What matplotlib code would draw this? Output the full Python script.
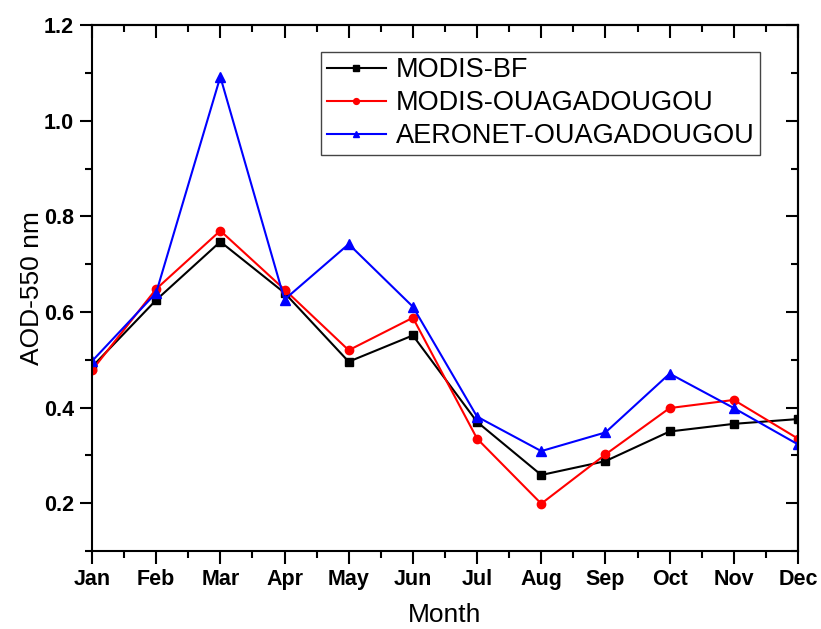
import matplotlib
matplotlib.use("Agg")
import matplotlib.pyplot as plt
from matplotlib.ticker import MultipleLocator

months = ["Jan", "Feb", "Mar", "Apr", "May", "Jun", "Jul", "Aug", "Sep", "Oct", "Nov", "Dec"]
modis_bf = [0.485, 0.625, 0.747, 0.640, 0.496, 0.551, 0.370, 0.259, 0.288, 0.350, 0.366, 0.376]
modis_ouaga = [0.478, 0.648, 0.770, 0.647, 0.520, 0.588, 0.335, 0.199, 0.302, 0.399, 0.416, 0.335]
aeronet_ouaga = [0.497, 0.640, 1.092, 0.626, 0.742, 0.611, 0.381, 0.309, 0.348, 0.471, 0.399, 0.323]

plt.rcParams['font.family'] = ['Liberation Sans', 'DejaVu Sans']

fig = plt.figure(figsize=(8.21, 6.29), dpi=100)
ax = fig.add_axes([0.112, 0.124, 0.860, 0.836])

x = range(len(months))
ax.plot(x, modis_bf, color='black', marker='s', markersize=6, lw=1.5, label='MODIS-BF')
ax.plot(x, modis_ouaga, color='red', marker='o', markersize=6, lw=1.5, label='MODIS-OUAGADOUGOU')
ax.plot(x, aeronet_ouaga, color='blue', marker='^', markersize=7, lw=1.5, label='AERONET-OUAGADOUGOU')

ax.set_xlim(0, 11)
ax.set_ylim(0.1, 1.2)
ax.set_xticks(list(x))
ax.set_xticklabels(months)
ax.xaxis.set_minor_locator(MultipleLocator(0.5))
ax.yaxis.set_minor_locator(MultipleLocator(0.1))
ax.set_yticks([0.2, 0.4, 0.6, 0.8, 1.0, 1.2])
ax.set_yticklabels(["0.2", "0.4", "0.6", "0.8", "1.0", "1.2"])

for lab in ax.get_xticklabels() + ax.get_yticklabels():
    lab.set_fontweight('bold')
    lab.set_fontsize(15.5)

ax.tick_params(which='both', direction='out', width=1.5, top=False, right=False)
ax.tick_params(which='major', length=9, pad=4)
ax.tick_params(which='minor', length=5)
for s in ax.spines.values():
    s.set_linewidth(1.5)

# mirrored inward ticks on top and right
sec_x = ax.secondary_xaxis('top')
sec_x.set_xticks(list(x))
sec_x.xaxis.set_minor_locator(MultipleLocator(0.5))
sec_x.tick_params(which='both', direction='in', width=1.5, labeltop=False)
sec_x.tick_params(which='major', length=9)
sec_x.tick_params(which='minor', length=5)
sec_x.spines['top'].set_linewidth(1.5)
sec_y = ax.secondary_yaxis('right')
sec_y.set_yticks([0.2, 0.4, 0.6, 0.8, 1.0, 1.2])
sec_y.yaxis.set_minor_locator(MultipleLocator(0.1))
sec_y.tick_params(which='both', direction='in', width=1.5, labelright=False)
sec_y.tick_params(which='major', length=9)
sec_y.tick_params(which='minor', length=5)
sec_y.spines['right'].set_linewidth(1.5)

ax.set_xlabel('Month', fontsize=19, labelpad=9)
ax.set_ylabel('AOD-550 nm', fontsize=19, labelpad=0)

leg = ax.legend(loc='upper right', bbox_to_anchor=(0.965, 0.975), fontsize=19.5,
                fancybox=False, edgecolor='#444444', framealpha=1,
                handlelength=2.2, markerscale=0.7, borderpad=0.2,
                labelspacing=0.26, handletextpad=0.35)
leg.get_frame().set_linewidth(1.0)

fig.savefig('out.png', dpi=100)
